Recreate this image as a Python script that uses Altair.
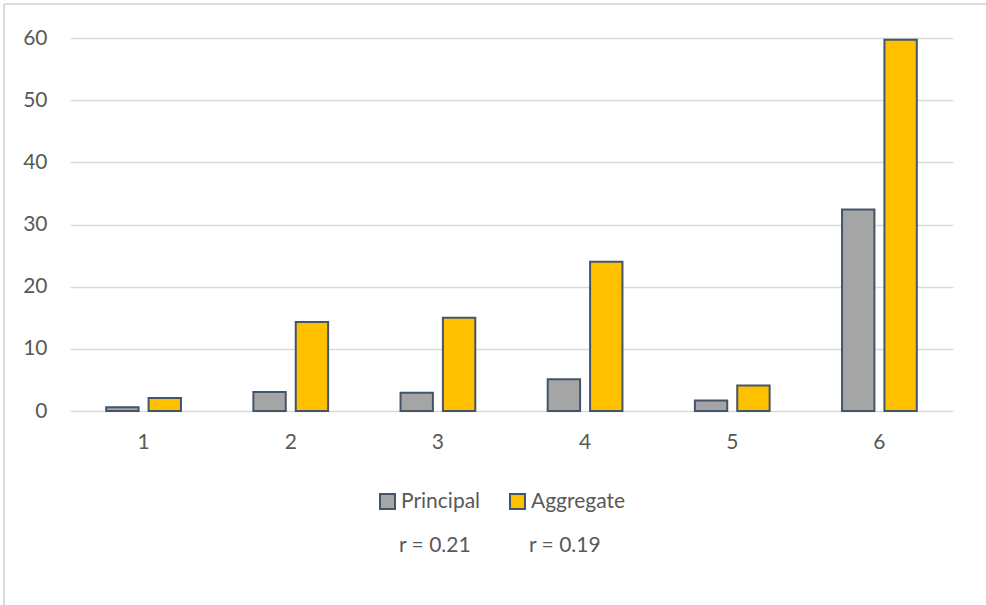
import altair as alt
import pandas as pd

# Group labels along the x axis
groups = ["1", "2", "3", "4", "5", "6"]
# Bar heights for each series
principal = [0.6, 3.05, 2.95, 5.1, 1.7, 32.4]
aggregate = [2.1, 14.3, 15.0, 24.0, 4.1, 59.7]
series_names = ["Principal", "Aggregate"]
series_colors = ["#A5A5A5", "#FFC000"]
# Correlation notes shown under the legend
r_notes = ["r = 0.21", "r = 0.19"]

rows = []
for g, p, a in zip(groups, principal, aggregate):
    rows.append({"group": g, "series": "Principal", "value": p})
    rows.append({"group": g, "series": "Aggregate", "value": a})
df = pd.DataFrame(rows)

FONT = "Lato"
FS = 21
TEXT = "#595959"
GRID = "#D9D9D9"

W, H = 883, 373
LEFT, TOP = 70, 38

bars = alt.Chart(df).mark_bar(stroke="#44546A", strokeWidth=2).encode(
    x=alt.X("group:N", sort=groups, title=None,
            scale=alt.Scale(paddingInner=0.492, paddingOuter=0.246),
            axis=alt.Axis(labelAngle=0, domain=False, ticks=False, grid=False,
                          labelFont=FONT, labelFontSize=FS, labelColor=TEXT,
                          labelPadding=20)),
    xOffset=alt.XOffset("series:N", sort=series_names,
                        scale=alt.Scale(paddingInner=0.236, paddingOuter=0)),
    y=alt.Y("value:Q", title=None,
            scale=alt.Scale(domain=[0, 60], nice=False),
            axis=alt.Axis(values=[0, 10, 20, 30, 40, 50, 60], domain=False, ticks=False,
                          gridColor=GRID, gridWidth=1.5,
                          labelFont=FONT, labelFontSize=FS, labelColor=TEXT,
                          labelPadding=23)),
    color=alt.Color("series:N", sort=series_names, title=None,
                    scale=alt.Scale(domain=series_names, range=series_colors),
                    legend=alt.Legend(orient="none", direction="horizontal",
                                      legendX=307, legendY=453,
                                      symbolType="square", symbolSize=225,
                                      symbolStrokeColor="#44546A", symbolStrokeWidth=2,
                                      labelFont=FONT, labelFontSize=FS, labelColor=TEXT,
                                      labelOffset=3, columnPadding=25)),
)

notes_df = pd.DataFrame({"note": r_notes, "px": [329, 459]})
notes = alt.Chart(notes_df).mark_text(
    align="left", baseline="middle", font=FONT, fontSize=FS, color=TEXT
).encode(
    x=alt.X("px:Q", scale=None),
    y=alt.value(508),
    text="note:N",
)

frame_top = alt.Chart(notes_df).mark_rule(color=GRID, strokeWidth=1.5).encode(
    x=alt.value(4 - LEFT), x2=alt.value(986 - LEFT), y=alt.value(4 - TOP)
)
frame_left = alt.Chart(notes_df).mark_rule(color=GRID, strokeWidth=2).encode(
    x=alt.value(4 - LEFT), y=alt.value(4 - TOP), y2=alt.value(605 - TOP)
)

chart = alt.layer(frame_top, frame_left, bars, notes).properties(
    width=W, height=H,
    autosize=alt.AutoSizeParams(type="none"),
    padding={"left": LEFT, "top": TOP, "right": 986 - LEFT - W, "bottom": 605 - TOP - H},
    background="white",
).configure_view(stroke=None)

chart.save("out.html", embed_options={"renderer": "svg", "actions": False})
